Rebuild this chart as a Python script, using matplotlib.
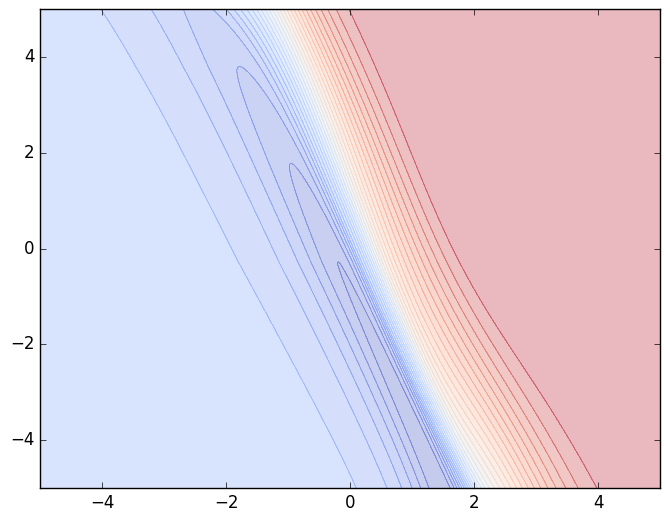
import numpy as np
import matplotlib
matplotlib.use('Agg')
import matplotlib.pyplot as plt

plt.style.use('classic')

# window, ticks and number of contour levels
x_lim = [-5, 5]
y_lim = [-5, 5]
x_ticks = [-4, -2, 0, 2, 4]
y_ticks = [-4, -2, 0, 2, 4]
n_levels = 31

# shape of the surface at the bottom, middle and top
anchor_y = [-5, 0, 5]
mid_x = [2.1, 0.50, -1.12]        # where the colour passes white
rise_left = [0.32, 0.38, 0.62]    # width of the rise, left of white
rise_right = [0.96, 0.76, 0.62]   # and right of white
dip_x = [1.53, 0.40, -2.45]       # the slope down into the blue valley
dip_width = [0.40, 0.55, 0.60]
dip_depth = [0.60, 0.60, 0.16]
plateau_left = 0.215
plateau_right = 1.0

# lowest value of the valley, from where the closed contours end
floor_y = [-5, -0.3, 1.8, 3.8, 5]
floor_val = [0.005, 0.033, 0.067, 0.100, 0.125]


def along_y(ys, vals, y):
    p = np.polyfit(ys, vals, len(ys) - 1)
    return np.polyval(p, y)


def sig(u):
    return 1.0 / (1.0 + np.exp(-u))


def step(u):
    # smooth 0 -> 1 step, close to the normal cdf
    return 0.5 * (1 + np.tanh(0.7978845608 * (u + 0.044715 * u ** 3)))


x = np.linspace(x_lim[0], x_lim[1], 500)
y = np.linspace(y_lim[0], y_lim[1], 500)
X, Y = np.meshgrid(x, y)

m = along_y(anchor_y, mid_x, Y)
wl = along_y(anchor_y, rise_left, Y)
wr = along_y(anchor_y, rise_right, Y)
c = along_y(anchor_y, dip_x, Y)
tau = along_y(anchor_y, dip_width, Y)
D = along_y(anchor_y, dip_depth, Y)

z = X - m
w = wl + (wr - wl) * sig(z / 0.2)
S = step(z / w)
Z = plateau_left - D * sig((X - c) / tau) + (plateau_right - plateau_left + D) * S

# stretch the part below the left plateau so each row reaches its floor
low = Z.min(axis=1, keepdims=True)
target = np.interp(y, floor_y, floor_val)[:, None]
below = Z < plateau_left
Z = np.where(below, plateau_left - (plateau_left - Z) * (plateau_left - target) / (plateau_left - low), Z)
Z = np.clip(Z, 1e-4, 1 - 1e-4)

levels = np.linspace(0, 1, n_levels)

fig = plt.figure(figsize=(6.7, 5.23), dpi=100, facecolor='white')
ax = fig.add_axes([40 / 670, 35 / 523, 620 / 670, 479 / 523])
ax.contourf(X, Y, Z, levels, alpha=0.3, cmap='coolwarm')
ax.contour(X, Y, Z, levels[1:-1], alpha=0.4, cmap='coolwarm', linewidths=0.6)
ax.set_xlim(x_lim)
ax.set_ylim(y_lim)
ax.set_xticks(x_ticks)
ax.set_yticks(y_ticks)

fig.savefig('out.png', dpi=100, facecolor='white')
